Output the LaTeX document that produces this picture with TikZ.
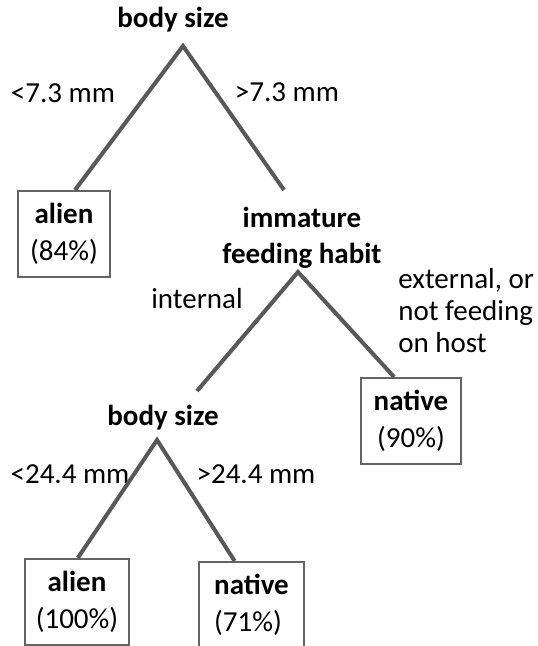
\documentclass[tikz,border=0pt]{standalone}
\usepackage{fontspec}
\setmainfont{Carlito}
\usetikzlibrary{positioning}
\definecolor{cline}{RGB}{88,88,88}
\definecolor{cbox}{RGB}{100,100,100}

\begin{document}
\begin{tikzpicture}[
  x=0.5pt,y=-0.5pt,
  font=\fontsize{14.5}{18}\selectfont,
  split/.style={font=\fontsize{14.5}{18}\selectfont\bfseries,align=center,inner sep=0pt},
  cond/.style={inner sep=0pt},
  leaf/.style={draw=cbox,line width=1pt,minimum height=43pt,align=center,inner sep=0pt,font=\fontsize{14.5}{18.5}\selectfont},
  branch/.style={draw=cline,line width=2pt}
]
\useasboundingbox (0,0) rectangle (537,646);

% ---- split labels ----
\node[split,anchor=base] (size1) at (173,28) {body size};
\node[split] (habit) at (302,238) {immature\\feeding habit};
\node[split,anchor=base] (size2) at (163,425) {body size};

% ---- branch labels ----
\node[cond,anchor=base] (lt73) at (63,103) {<7.3 mm};
\node[cond,anchor=base] (gt73) at (287,102) {>7.3 mm};
\node[cond,anchor=base] (inner) at (197,308) {internal};
\node[cond,anchor=west,align=left,font=\fontsize{14.5}{16}\selectfont] (outer) at (398,311) {external, or\\not feeding\\on host};
\node[cond,anchor=base] (lt244) at (70,483) {<24.4 mm};
\node[cond,anchor=base] (gt244) at (256,483) {>24.4 mm};

% ---- leaves ----
\node[leaf,minimum width=46pt] (alien1) at (64,234) {\textbf{alien}\\(84\%)};
\node[leaf,minimum width=50pt] (native1) at (411,421) {\textbf{native}\\(90\%)};
\node[leaf,minimum width=52pt] (alien2) at (77,602) {\textbf{alien}\\(100\%)};
\node[leaf,minimum width=52.5pt,align=left] (native2) at (251.5,605) {\textbf{native}\\(71\%)};

% ---- forks ----
\coordinate (fork1) at (183,46);
\coordinate (fork1r) at (284,190);
\coordinate (fork2) at (298,272);
\coordinate (fork2l) at (197,391);
\coordinate (fork3) at (157,440);

% ---- branches ----
\draw[branch] (alien1.76) -- (fork1) -- (fork1r);
\draw[branch] (fork2l) -- (fork2) -- (native1.111);
\draw[branch] (alien2.89) -- (fork3) -- (native2.111);
\end{tikzpicture}
\end{document}
